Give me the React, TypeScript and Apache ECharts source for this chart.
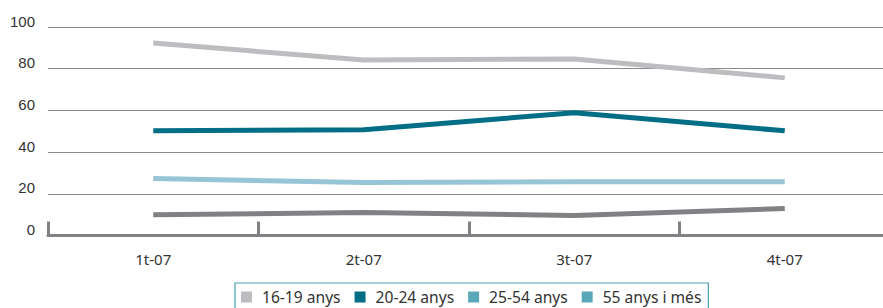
import React, { useEffect, useRef } from "react";
import * as echarts from "echarts";

const categories = ["1t-07", "2t-07", "3t-07", "4t-07"];
const seriesNames = ["16-19 anys", "20-24 anys", "25-54 anys", "55 anys i més"];
const s1619 = [92.3, 84.2, 84.7, 75.6];
const s2024 = [50.2, 50.7, 58.9, 50.2];
const s2554 = [27.3, 25.4, 25.8, 25.8];
const s55 = [10.0, 11.0, 9.6, 12.9];
const lineColors = ["#bdbdc1", "#006e87", "#98c5d6", "#808085"];
const legendColors = ["#bdbdc1", "#006e87", "#5ba7ba", "#5ba7ba"];

export default function App() {
  const ref = useRef<HTMLDivElement>(null);
  useEffect(() => {
    if (!ref.current) return;
    const chart = echarts.init(ref.current, null, { renderer: "svg" });
    const values = [s1619, s2024, s2554, s55];
    chart.setOption({
      animation: false,
      textStyle: { fontFamily: "Noto Sans, sans-serif" },
      grid: { left: 48, right: 0, top: 27, bottom: 72.5 },
      legend: {
        top: 283,
        left: 235,
        itemWidth: 11,
        itemHeight: 11,
        itemGap: 14,
        padding: [6, 7, 6, 6],
        borderColor: "#4a9fb5",
        borderWidth: 1.2,
        textStyle: {
          fontSize: 15.6,
          color: "#333",
          padding: [0, 0, 0, 5],
          fontFamily: "Noto Sans, sans-serif",
        },
        data: seriesNames.map((n, i) => ({
          name: n,
          icon: "rect",
          itemStyle: { color: legendColors[i] },
        })),
      },
      xAxis: {
        type: "category",
        data: categories,
        boundaryGap: true,
        axisLine: { lineStyle: { color: "#808085", width: 3 } },
        axisTick: {
          show: true,
          inside: true,
          length: 14,
          lineStyle: { color: "#808085", width: 3 },
        },
        axisLabel: {
          fontSize: 15,
          color: "#333",
          margin: 16,
          fontFamily: "Noto Sans, sans-serif",
        },
      },
      yAxis: {
        type: "value",
        min: 0,
        max: 100,
        interval: 20,
        axisLine: { show: false },
        axisTick: { show: false },
        axisLabel: {
          fontSize: 15,
          color: "#333",
          margin: 13,
          verticalAlign: "bottom",
          lineHeight: 12,
          fontFamily: "Liberation Sans, Arial, sans-serif",
        },
        splitLine: { lineStyle: { color: "#8a8a8a", width: 1.2 } },
      },
      series: seriesNames.map((n, i) => ({
        name: n,
        type: "line",
        data: values[i],
        symbol: "none",
        color: lineColors[i],
        lineStyle: { width: 5, color: lineColors[i] },
      })),
    });
    return () => chart.dispose();
  }, []);
  return (
    <div style={{ width: 883, height: 308, position: "absolute", left: 0, top: 0, overflow: "hidden" }}>
      <div ref={ref} style={{ width: 890, height: 308 }} />
    </div>
  );
}
